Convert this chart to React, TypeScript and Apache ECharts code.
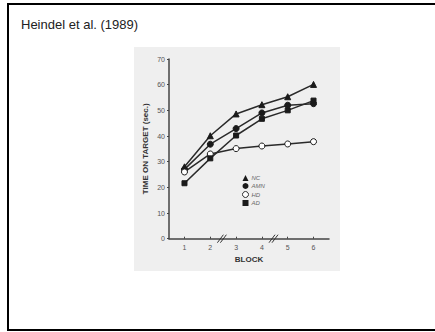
import React, { useEffect, useRef } from "react";
import * as echarts from "echarts";

const BLOCKS = [1, 2, 3, 4, 5, 6];
const Y_TICKS = [0, 10, 20, 30, 40, 50, 60, 70];
const NC = [28.0, 40.1, 48.6, 52.2, 55.3, 60.1];
const AMN = [27.0, 36.8, 42.9, 49.0, 52.0, 52.6];
const HD = [26.0, 33.0, 35.1, 36.1, 36.9, 37.8];
const AD = [21.6, 31.3, 40.2, 46.7, 50.0, 53.8];
const BREAKS = [2.45, 4.45];
const TITLE = "Heindel et al. (1989)";

const pairs = (ys: number[]) => BLOCKS.map((b, i) => [b, ys[i]]);

export default function App() {
  const ref = useRef<HTMLDivElement>(null);
  useEffect(() => {
    document.body.style.margin = "0";
    const chart = echarts.init(ref.current!, undefined, { renderer: "svg" });
    const font = "Liberation Sans, Arial, sans-serif";
    const lineColor = "#2a2a2a";
    const mk = (name: string, ys: number[], symbol: string, size: number, fill: string) => ({
      name,
      type: "line",
      data: pairs(ys),
      symbol,
      symbolSize: size,
      lineStyle: { color: lineColor, width: 1.5 },
      itemStyle: { color: fill, borderColor: "#1a1a1a", borderWidth: 1 },
      z: 3,
    });
    chart.setOption({
      animation: false,
      backgroundColor: "#fff",
      title: {
        text: TITLE,
        left: 21,
        top: 18,
        padding: 0,
        textStyle: { fontFamily: font, fontSize: 13, fontWeight: "normal", color: "#222" },
      },
      graphic: [
        {
          type: "rect",
          z: -1,
          silent: true,
          shape: { x: 134, y: 47, width: 206, height: 224 },
          style: { fill: "#efefef" },
        },
        {
          type: "rect",
          z: 10,
          silent: true,
          shape: { x: 8, y: 4, width: 1000, height: 326 },
          style: { fill: "none", stroke: "#000", lineWidth: 2 },
        },
      ],
      legend: {
        orient: "vertical",
        left: 242,
        top: 175,
        itemWidth: 6,
        itemHeight: 6,
        itemGap: 2,
        padding: 0,
        textStyle: { fontFamily: font, fontSize: 6, fontStyle: "italic", color: "#666", padding: [0, 0, 0, -2] },
        data: [
          { name: "NC", icon: "triangle", itemStyle: { color: "#1a1a1a", borderWidth: 0 } },
          { name: "AMN", icon: "circle", itemStyle: { color: "#1a1a1a", borderWidth: 0 } },
          { name: "HD", icon: "circle", itemStyle: { color: "#fff", borderColor: "#333", borderWidth: 1 } },
          { name: "AD", icon: "rect", itemStyle: { color: "#1a1a1a", borderWidth: 0 } },
        ],
      },
      grid: { left: 169, top: 59, right: 106, bottom: 93.3 },
      xAxis: {
        type: "value",
        min: 0.4,
        max: 6.6,
        name: "BLOCK",
        nameLocation: "middle",
        nameGap: 17,
        nameTextStyle: { fontFamily: font, fontSize: 8, fontWeight: "bold", color: "#333" },
        axisLine: { lineStyle: { color: "#444", width: 1.5 } },
        axisTick: { show: true, inside: true, length: 2, customValues: BLOCKS, lineStyle: { color: "#444" } },
        axisLabel: {
          customValues: BLOCKS,
          margin: 5,
          fontFamily: font,
          fontSize: 7,
          color: "#555",
        },
        splitLine: { show: false },
      },
      yAxis: {
        type: "value",
        min: 0,
        max: 70,
        interval: 10,
        name: "TIME ON TARGET (sec.)",
        nameLocation: "middle",
        nameRotate: 90,
        nameGap: 20,
        nameTextStyle: { fontFamily: font, fontSize: 8, fontWeight: "bold", color: "#333" },
        axisLine: { show: true, lineStyle: { color: "#444", width: 1.5 } },
        axisTick: { show: true, length: 2, lineStyle: { color: "#444" } },
        axisLabel: {
          margin: 4,
          fontFamily: font,
          fontSize: 7,
          color: "#555",
          formatter: (v: number) => (Y_TICKS.includes(v) ? String(v) : ""),
        },
        splitLine: { show: false },
      },
      series: [
        mk("NC", NC, "triangle", 6, "#1a1a1a"),
        mk("AMN", AMN, "circle", 6, "#1a1a1a"),
        mk("HD", HD, "circle", 6, "#ffffff"),
        mk("AD", AD, "rect", 5, "#1a1a1a"),
        {
          type: "custom",
          name: "breaks",
          silent: true,
          z: 4,
          data: BREAKS.map((b) => [b, 0]),
          renderItem: (params: any, api: any) => {
            const p = api.coord([api.value(0), api.value(1)]);
            const mkLine = (dx: number) => ({
              type: "line",
              shape: { x1: p[0] + dx - 3, y1: p[1] + 4, x2: p[0] + dx + 3, y2: p[1] - 4 },
              style: { stroke: "#333", lineWidth: 1 },
            });
            return {
              type: "group",
              children: [mkLine(-1.5), mkLine(1.5)],
            };
          },
        },
      ],
    });
    return () => chart.dispose();
  }, []);
  return <div ref={ref} style={{ width: 435, height: 332 }} />;
}
